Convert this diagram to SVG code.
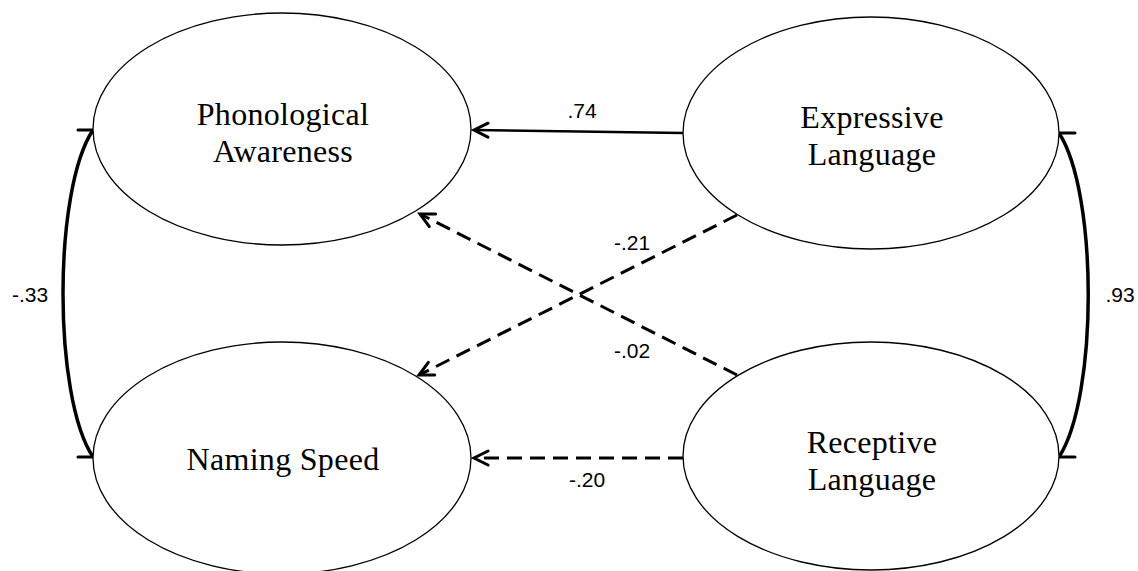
<svg xmlns="http://www.w3.org/2000/svg" width="1138" height="571" viewBox="0 0 1138 571">
<style>
.node{fill:#fff;stroke:#000;stroke-width:1.3}
.lbl{font-family:"Liberation Serif",serif;font-size:32px;letter-spacing:0.3px;text-anchor:middle;fill:#000}
.num{font-family:"Liberation Sans",Arial,sans-serif;font-size:21px;text-anchor:middle;fill:#000}
.solid{fill:none;stroke:#000;stroke-width:2.7}
.dash{fill:none;stroke:#000;stroke-width:3;stroke-dasharray:15 8}
.curve{fill:none;stroke:#000;stroke-width:3.5}
.bar{fill:none;stroke:#000;stroke-width:3;stroke-linecap:round}
</style>
<defs>
<marker id="arr" markerUnits="userSpaceOnUse" viewBox="-16 -10 20 20" refX="0" refY="0" markerWidth="20" markerHeight="20" orient="auto">
<path d="M-14,-7 L0,0 L-14,7" fill="none" stroke="#000" stroke-width="3" stroke-linecap="round" stroke-linejoin="miter"/>
</marker>
</defs>
<rect width="1138" height="571" fill="#fff"/>
<g id="connectors">
<path class="solid" d="M683,133 L474,130" marker-end="url(#arr)"/>
<path class="dash" d="M737,215 L419,375" marker-end="url(#arr)"/>
<path class="dash" d="M737,375 L420,214" marker-end="url(#arr)"/>
<path class="dash" d="M683,458 L474,458" marker-end="url(#arr)"/>
<path class="curve" d="M93,130 C53,190 53,397 93,457"/>
<path class="bar" d="M78,130 L93,130 M93,457 L78,457"/>
<path class="curve" d="M1059,133 C1098,193 1098,397 1059,457"/>
<path class="bar" d="M1075,133 L1059,133 M1059,457 L1075,457"/>
<text class="num" x="582" y="118">.74</text>
<text class="num" x="632" y="250">-.21</text>
<text class="num" x="632" y="358">-.02</text>
<text class="num" x="587" y="487">-.20</text>
<text class="num" x="30" y="302">-.33</text>
<text class="num" x="1120" y="302">.93</text>
</g>
<g id="phonological-awareness">
<ellipse class="node" cx="282" cy="129" rx="189" ry="116"/>
<text class="lbl" x="283" y="125">Phonological</text>
<text class="lbl" x="283" y="162">Awareness</text>
</g>
<g id="naming-speed">
<ellipse class="node" cx="282" cy="458" rx="189" ry="116"/>
<text class="lbl" x="283" y="470">Naming Speed</text>
</g>
<g id="expressive-language">
<ellipse class="node" cx="871" cy="133" rx="188" ry="116"/>
<text class="lbl" x="872" y="128">Expressive</text>
<text class="lbl" x="872" y="165">Language</text>
</g>
<g id="receptive-language">
<ellipse class="node" cx="871" cy="456" rx="188" ry="114"/>
<text class="lbl" x="872" y="453">Receptive</text>
<text class="lbl" x="872" y="490">Language</text>
</g>
</svg>
